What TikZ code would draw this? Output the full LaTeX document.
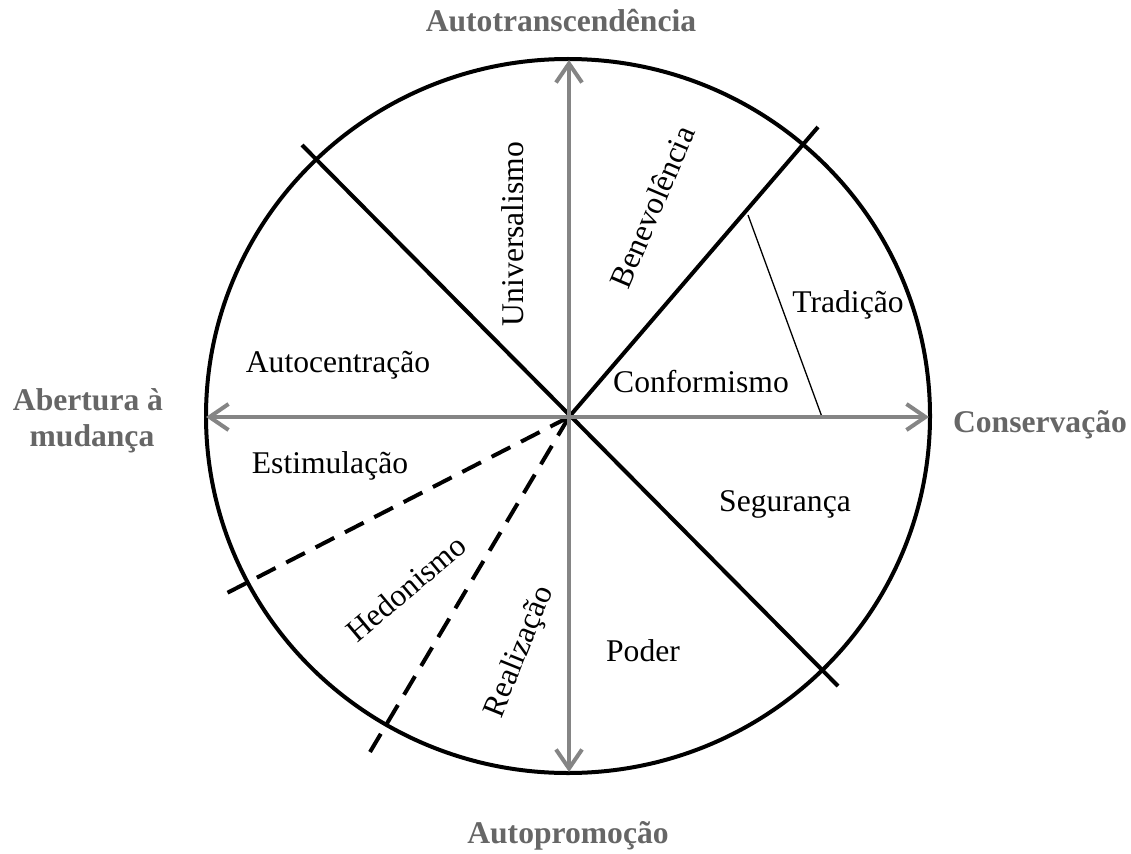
\documentclass[tikz,border=0pt]{standalone}
\usepackage{fontspec}
\setmainfont{Liberation Serif}
\usetikzlibrary{arrows.meta}
\definecolor{axisgray}{HTML}{858585}
\definecolor{labelgray}{HTML}{666666}
\tikzset{
  ring/.style={line width=4pt, black},
  divider/.style={line width=4pt, black},
  dashdiv/.style={line width=4pt, black},
  thinline/.style={line width=1.3pt, black},
  axis/.style={line width=4pt, axisgray, {Straight Barb[length=19pt,width=26pt,line width=4pt]}-{Straight Barb[length=19pt,width=26pt,line width=4pt]}},
  pole/.style={font=\fontsize{31.6}{36}\selectfont\bfseries, text=labelgray, inner sep=0pt, align=center},
  val/.style={font=\fontsize{31.6}{36}\selectfont, inner sep=0pt}
}
\begin{document}
\begin{tikzpicture}[x=1pt,y=-1pt]
\useasboundingbox (0,0) rectangle (1131,853);
% key points
\coordinate (C) at (569,417);
\coordinate (T) at (569,60);
\coordinate (B) at (569,772);
\coordinate (L) at (206,417);
\coordinate (R) at (929,417);
\coordinate (NW) at (302,145);
\coordinate (SE) at (838,686);
\coordinate (NE) at (818,127);
\coordinate (D1) at (227,593);
\coordinate (D2) at (370,752);
\coordinate (TA) at (748,215);
\coordinate (TB) at (822,417);
% circle
\draw[ring] (568,416) ellipse [x radius=362pt, y radius=357pt];
% dividers
\draw[divider] (NW) -- (SE);
\draw[divider] (C) -- (NE);
\draw[dashdiv, dash pattern=on 21pt off 12pt] (C) -- (D1);
\draw[dashdiv, dash pattern=on 21.5pt off 12pt] (C) -- (D2);
\draw[thinline] (TA) -- (TB);
% axes
\draw[axis] (L) -- (R);
\draw[axis] (T) -- (B);
% pole labels
\node[pole, anchor=base] (pT) at (561,32) {Autotranscendência};
\node[pole, anchor=base] (pB) at (568,843) {Autopromoção};
\node[pole, anchor=base] (pR) at (1040,432) {Conservação};
\node[pole, anchor=base] (pL1) at (88,410) {Abertura à};
\node[pole, anchor=base] (pL2) at (92,446) {mudança};
% value labels
\node[val, anchor=base] (v1) at (338,372) {Autocentração};
\node[val, anchor=base] (v2) at (330,473) {Estimulação};
\node[val, anchor=base] (v3) at (701,392) {Conformismo};
\node[val, anchor=base] (v4) at (848,312) {Tradição};
\node[val, anchor=base] (v5) at (785,511) {Segurança};
\node[val, anchor=base] (v6) at (643,661) {Poder};
\node[val, rotate=90] (v7) at (513,234) {Universalismo};
\node[val, rotate=67] (v8) at (652,207) {Benevolência};
\node[val, rotate=40] (v9) at (406,588) {Hedonismo};
\node[val, rotate=68] (v10) at (520,652) {Realização};
\end{tikzpicture}
\end{document}
